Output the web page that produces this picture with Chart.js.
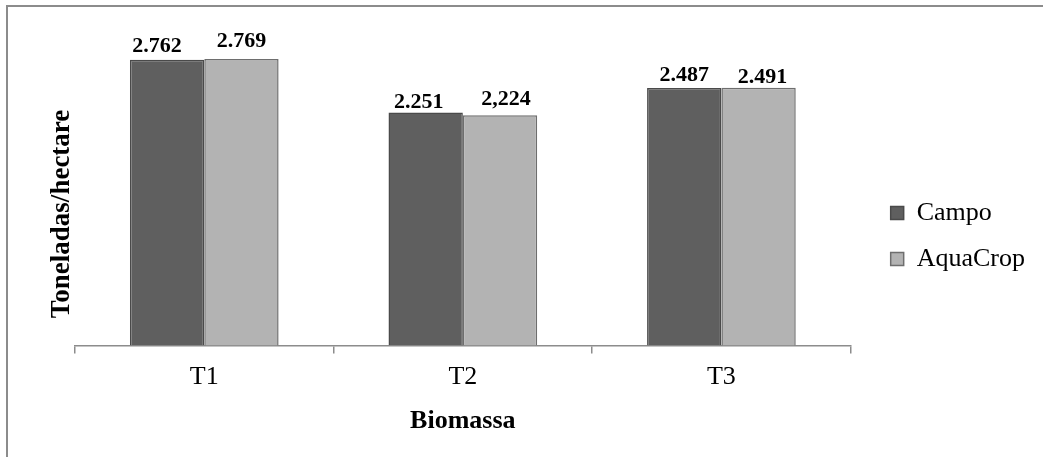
<!DOCTYPE html>
<html>
<head>
<meta charset="utf-8">
<script src="https://cdn.jsdelivr.net/npm/chart.js"></script>
<style>
  html, body { margin: 0; padding: 0; background: #fff; overflow: hidden; }
  #frame { position: absolute; left: 6px; top: 5px; width: 1100px; height: 500px;
           border-left: 2px solid #8c8c8c; border-top: 2px solid #8c8c8c; }
  #salesChart { position: absolute; left: 0; top: 0; }
</style>
</head>
<body>
<div id="frame"></div>
<canvas id="salesChart" width="1043" height="457"></canvas>
<script>
// dados
var categorias = ['T1', 'T2', 'T3'];
var campo = [2.762, 2.251, 2.487];
var aquaCrop = [2.769, 2.224, 2.491];
// rótulos como aparecem na figura (um deles usa vírgula)
var campoRotulos = ['2.762', '2.251', '2.487'];
var aquaRotulos = ['2.769', '2,224', '2.491'];

var fonte = 'Liberation Serif, Times New Roman, serif';

// escreve o valor em cima de cada barra (com o pequeno deslocamento manual da figura)
const rotulosPlugin = {
    id: 'rotulos',
    afterDatasetsDraw(chart, args, opts) {
        const ctx = chart.ctx;
        ctx.save();
        ctx.font = 'bold 22px ' + fonte;
        ctx.fillStyle = '#000';
        ctx.textAlign = 'center';
        ctx.textBaseline = 'alphabetic';
        chart.data.datasets.forEach((ds, i) => {
            chart.getDatasetMeta(i).data.forEach((bar, j) => {
                const dx = opts.dx[i][j], dy = opts.dy[i][j];
                ctx.fillText(ds.rotulos[j], bar.x + dx, bar.y - dy);
            });
        });
        ctx.restore();
    }
};

const ctx = document.getElementById('salesChart').getContext('2d');
new Chart(ctx, {
    type: 'bar',
    data: {
        labels: categorias,
        datasets: [{
            label: 'Campo',
            data: campo,
            rotulos: campoRotulos,
            backgroundColor: '#5f5f5f',
            borderColor: '#4a4a4a',
            borderWidth: 1.5
        }, {
            label: 'AquaCrop',
            data: aquaCrop,
            rotulos: aquaRotulos,
            backgroundColor: '#b3b3b3',
            borderColor: '#6e6e6e',
            borderWidth: 1.5
        }]
    },
    plugins: [rotulosPlugin],
    options: {
        responsive: false,
        animation: false,
        categoryPercentage: 0.575,
        barPercentage: 1,
        layout: { padding: { left: 42, top: 35, right: 8, bottom: 20 } },
        plugins: {
            tooltip: { enabled: false },
            rotulos: {
                dx: [[-10, -7, 0], [0, 6, 4]],
                dy: [[8, 5, 7], [12, 10, 5]]
            },
            legend: {
                position: 'right',
                labels: {
                    color: '#000',
                    font: { family: fonte, size: 26 },
                    boxWidth: 13,
                    boxHeight: 13,
                    padding: 20
                }
            }
        },
        scales: {
            x: {
                grid: { display: true, drawOnChartArea: false, tickLength: 8, color: '#8c8c8c', lineWidth: 1.5 },
                border: { display: true, color: '#8c8c8c', width: 1.5 },
                ticks: { color: '#000', font: { family: fonte, size: 26 }, padding: 8 },
                title: {
                    display: true,
                    text: 'Biomassa',
                    color: '#000',
                    font: { family: fonte, size: 26, weight: 'bold' },
                    padding: { top: 5, bottom: 0 }
                }
            },
            y: {
                min: 0,
                max: 3,
                grid: { display: false },
                border: { display: false },
                ticks: { display: false },
                title: {
                    display: true,
                    text: 'Toneladas/hectare       ',
                    color: '#000',
                    font: { family: fonte, size: 27, weight: 'bold' },
                    padding: { top: 4, bottom: 0 }
                },
                afterFit: function(scale) { scale.width = 33; }
            },
            espaco: {
                type: 'linear',
                position: 'right',
                grid: { display: false },
                border: { display: false },
                ticks: { display: false },
                afterFit: function(scale) { scale.width = 20; }
            }
        }
    }
});
</script>
</body>
</html>
